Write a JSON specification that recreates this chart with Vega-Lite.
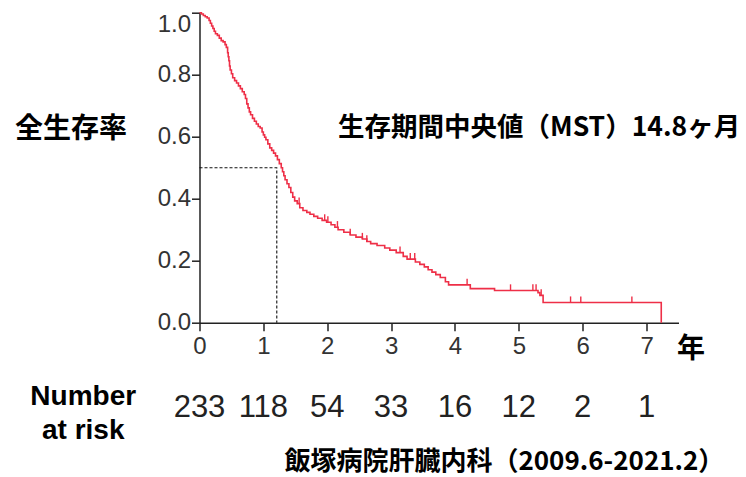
{
  "$schema": "https://vega.github.io/schema/vega-lite/v6.json",
  "width": 479,
  "height": 310,
  "autosize": {"type": "none"},
  "padding": {"left": 199.5, "top": 12.7, "right": 67.5, "bottom": 154.3},
  "background": "white",
  "config": {
    "view": {"stroke": null},
    "axis": {
      "grid": false,
      "domainColor": "#222",
      "domainWidth": 1.5,
      "tickColor": "#222",
      "tickWidth": 1.5,
      "tickSize": 8,
      "labelFont": "Liberation Sans",
      "labelFontSize": 24,
      "labelColor": "#333",
      "titleFont": "Noto Sans CJK JP",
      "titleFontWeight": "bold",
      "titleColor": "#000"
    }
  },
  "datasets": {
    "km": [
      {"t": 0, "s": 1.0}, {"t": 0.03, "s": 0.996}, {"t": 0.06, "s": 0.991}, {"t": 0.09, "s": 0.987},
      {"t": 0.12, "s": 0.983}, {"t": 0.15, "s": 0.975}, {"t": 0.17, "s": 0.966}, {"t": 0.19, "s": 0.957},
      {"t": 0.21, "s": 0.949}, {"t": 0.23, "s": 0.94}, {"t": 0.25, "s": 0.932}, {"t": 0.28, "s": 0.927},
      {"t": 0.31, "s": 0.918}, {"t": 0.34, "s": 0.91}, {"t": 0.37, "s": 0.906}, {"t": 0.4, "s": 0.897},
      {"t": 0.42, "s": 0.888}, {"t": 0.44, "s": 0.871}, {"t": 0.45, "s": 0.858}, {"t": 0.46, "s": 0.845},
      {"t": 0.47, "s": 0.828}, {"t": 0.48, "s": 0.815}, {"t": 0.5, "s": 0.803}, {"t": 0.52, "s": 0.79},
      {"t": 0.55, "s": 0.781}, {"t": 0.58, "s": 0.773}, {"t": 0.61, "s": 0.764}, {"t": 0.64, "s": 0.755},
      {"t": 0.67, "s": 0.745}, {"t": 0.7, "s": 0.736}, {"t": 0.72, "s": 0.723}, {"t": 0.74, "s": 0.706},
      {"t": 0.76, "s": 0.693}, {"t": 0.78, "s": 0.68}, {"t": 0.8, "s": 0.671}, {"t": 0.83, "s": 0.659},
      {"t": 0.86, "s": 0.65}, {"t": 0.89, "s": 0.641}, {"t": 0.92, "s": 0.633}, {"t": 0.95, "s": 0.628},
      {"t": 0.98, "s": 0.615}, {"t": 1.0, "s": 0.606}, {"t": 1.02, "s": 0.598}, {"t": 1.04, "s": 0.59},
      {"t": 1.07, "s": 0.577}, {"t": 1.1, "s": 0.564}, {"t": 1.13, "s": 0.556}, {"t": 1.16, "s": 0.547},
      {"t": 1.19, "s": 0.538}, {"t": 1.22, "s": 0.526}, {"t": 1.25, "s": 0.513}, {"t": 1.28, "s": 0.5},
      {"t": 1.3, "s": 0.487}, {"t": 1.32, "s": 0.474}, {"t": 1.34, "s": 0.461}, {"t": 1.37, "s": 0.448},
      {"t": 1.4, "s": 0.436}, {"t": 1.43, "s": 0.42}, {"t": 1.46, "s": 0.405}, {"t": 1.49, "s": 0.393},
      {"t": 1.53, "s": 0.384}, {"t": 1.57, "s": 0.371}, {"t": 1.62, "s": 0.362}, {"t": 1.68, "s": 0.356},
      {"t": 1.73, "s": 0.35}, {"t": 1.79, "s": 0.343}, {"t": 1.85, "s": 0.337}, {"t": 1.92, "s": 0.33},
      {"t": 1.99, "s": 0.324}, {"t": 2.06, "s": 0.316}, {"t": 2.12, "s": 0.308}, {"t": 2.17, "s": 0.3},
      {"t": 2.26, "s": 0.292}, {"t": 2.36, "s": 0.283}, {"t": 2.45, "s": 0.276}, {"t": 2.55, "s": 0.27},
      {"t": 2.62, "s": 0.262}, {"t": 2.68, "s": 0.255}, {"t": 2.78, "s": 0.249}, {"t": 2.9, "s": 0.241},
      {"t": 2.98, "s": 0.234}, {"t": 3.08, "s": 0.226}, {"t": 3.19, "s": 0.214}, {"t": 3.25, "s": 0.205},
      {"t": 3.38, "s": 0.196}, {"t": 3.45, "s": 0.188}, {"t": 3.52, "s": 0.18}, {"t": 3.58, "s": 0.171},
      {"t": 3.64, "s": 0.163}, {"t": 3.7, "s": 0.155}, {"t": 3.77, "s": 0.146}, {"t": 3.85, "s": 0.132},
      {"t": 3.9, "s": 0.122}, {"t": 4.24, "s": 0.11}, {"t": 4.62, "s": 0.104}, {"t": 5.3, "s": 0.097},
      {"t": 5.33, "s": 0.088}, {"t": 5.38, "s": 0.065}, {"t": 7.23, "s": 0.0}
    ],
    "censor": [
      {"t": 1.56, "s": 0.384}, {"t": 1.96, "s": 0.33}, {"t": 2.01, "s": 0.324}, {"t": 2.16, "s": 0.308},
      {"t": 2.36, "s": 0.283}, {"t": 2.55, "s": 0.27}, {"t": 2.62, "s": 0.262}, {"t": 3.14, "s": 0.226},
      {"t": 3.3, "s": 0.205}, {"t": 3.37, "s": 0.205}, {"t": 4.19, "s": 0.122}, {"t": 4.87, "s": 0.104},
      {"t": 5.22, "s": 0.104}, {"t": 5.27, "s": 0.104}, {"t": 5.35, "s": 0.088}, {"t": 5.81, "s": 0.065},
      {"t": 5.97, "s": 0.065}, {"t": 6.77, "s": 0.065}
    ],
    "median": [
      {"t": 0, "s": 0.5, "o": 1}, {"t": 1.21, "s": 0.5, "o": 2}, {"t": 1.21, "s": 0, "o": 3}
    ],
    "risk": [
      {"year": 0, "n": 233}, {"year": 1, "n": 118}, {"year": 2, "n": 54}, {"year": 3, "n": 33},
      {"year": 4, "n": 16}, {"year": 5, "n": 12}, {"year": 6, "n": 2}, {"year": 7, "n": 1}
    ]
  },
  "layer": [
    {
      "data": {"name": "median"},
      "mark": {"type": "line", "color": "#111", "strokeWidth": 1.1, "strokeDash": [3, 2]},
      "encoding": {
        "x": {"field": "t", "type": "quantitative",
          "scale": {"domain": [0, 7.5], "nice": false, "zero": true},
          "axis": {
            "values": [0, 0.5, 1, 1.5, 2, 2.5, 3, 3.5, 4, 4.5, 5, 5.5, 6, 6.5, 7, 7.5],
            "labelExpr": "datum.value % 1 == 0 ? format(datum.value, 'd') : ''",
            "labelFlush": false,
            "labelPadding": 4,
            "title": "年",
            "titleFontSize": 28,
            "titleAngle": 0,
            "titleAnchor": null,
            "titleAlign": "center",
            "titleBaseline": "middle",
            "titleX": 491,
            "titleY": 27
          }
        },
        "y": {"field": "s", "type": "quantitative",
          "scale": {"domain": [0, 1], "nice": false},
          "axis": {
            "values": [0, 0.1, 0.2, 0.3, 0.4, 0.5, 0.6, 0.7, 0.8, 0.9, 1.0],
            "labelExpr": "round(datum.value * 10) % 2 == 0 ? format(datum.value, '.1f') : ''",
            "labelFlush": false,
            "labelBaseline": {"condition": {"test": "datum.value >= 1", "value": "top"}, "value": "middle"},
            "labelPadding": 1,
            "title": "全生存率",
            "titleFontSize": 28,
            "titleAngle": 0,
            "titleAlign": "center",
            "titleBaseline": "middle",
            "titleX": -129,
            "titleY": 117
          }
        },
        "order": {"field": "o"}
      }
    },
    {
      "data": {"name": "km"},
      "mark": {"type": "line", "interpolate": "step-after", "color": "#ee2f47", "strokeWidth": 1.6},
      "encoding": {
        "x": {"field": "t", "type": "quantitative"},
        "y": {"field": "s", "type": "quantitative"}
      }
    },
    {
      "data": {"name": "censor"},
      "mark": {"type": "point", "shape": "M0,0L0,-1", "size": 150, "filled": false, "stroke": "#ee2f47", "strokeWidth": 1.4, "opacity": 1},
      "encoding": {
        "x": {"field": "t", "type": "quantitative"},
        "y": {"field": "s", "type": "quantitative"}
      }
    },
    {
      "data": {"name": "risk"},
      "mark": {"type": "text", "font": "Liberation Sans", "fontSize": 31, "color": "#222", "align": "center", "baseline": "middle"},
      "encoding": {
        "x": {"field": "year", "type": "quantitative"},
        "y": {"datum": -0.275},
        "text": {"field": "n"}
      }
    },
    {
      "data": {"values": [{"label": "Number\nat risk"}]},
      "mark": {"type": "text", "font": "Liberation Sans", "fontWeight": "bold", "fontSize": 28, "color": "#000", "align": "center", "baseline": "middle", "lineBreak": "\n", "lineHeight": 34},
      "encoding": {
        "x": {"datum": -1.82},
        "y": {"datum": -0.24},
        "text": {"field": "label"}
      }
    },
    {
      "data": {"values": [{"label": "生存期間中央値（MST）14.8ヶ月"}]},
      "mark": {"type": "text", "font": "Noto Sans CJK JP", "fontWeight": "bold", "fontSize": 26.5, "color": "#000", "align": "left", "baseline": "middle"},
      "encoding": {
        "x": {"datum": 2.17},
        "y": {"datum": 0.628},
        "text": {"field": "label"}
      }
    },
    {
      "data": {"values": [{"label": "飯塚病院肝臓内科（2009.6-2021.2）"}]},
      "mark": {"type": "text", "font": "Noto Sans CJK JP", "fontWeight": "bold", "fontSize": 26, "color": "#000", "align": "left", "baseline": "middle"},
      "encoding": {
        "x": {"datum": 1.33},
        "y": {"datum": -0.449},
        "text": {"field": "label"}
      }
    }
  ]
}
